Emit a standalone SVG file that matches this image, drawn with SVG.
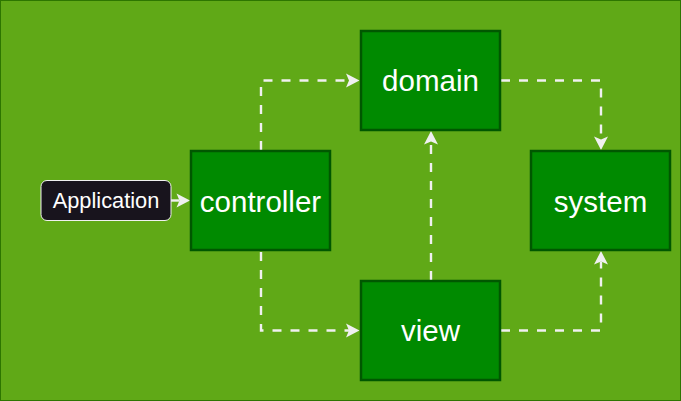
<svg xmlns="http://www.w3.org/2000/svg" width="681" height="401" viewBox="0 0 681 401">
  <defs>
    <style>
      .box { fill: #008a00; stroke: #005700; stroke-width: 2.5; }
      .label { font-family: "Liberation Sans", Arial, sans-serif; fill: #ffffff; text-anchor: middle; }
      .big { font-size: 29.5px; }
      .small { font-size: 21.8px; }
      .edge { fill: none; stroke: #f0f0f0; stroke-width: 2.4; }
      .dashed { stroke-dasharray: 9 9; }
    </style>
    <marker id="arrow" markerUnits="userSpaceOnUse" viewBox="-4 -8 16 16" markerWidth="16" markerHeight="16" refX="0" refY="0" orient="auto">
      <path d="M10.5,0 L-3,-7 L0,0 L-3,7 Z" fill="#f0f0f0"/>
    </marker>
  </defs>

  <!-- backdrop -->
  <rect x="0.5" y="0.5" width="680" height="400" fill="#60a917" stroke="#2d7600" stroke-width="1"/>

  <!-- connectors -->
  <g id="connectors">
    <path class="edge" d="M171,200.5 H179.5" marker-end="url(#arrow)"/>
    <path class="edge dashed" d="M261,150 V80.5 H349" marker-end="url(#arrow)"/>
    <path class="edge dashed" d="M261,252 V330.5 H349" marker-end="url(#arrow)"/>
    <path class="edge dashed" d="M431,280 V141.5" marker-end="url(#arrow)"/>
    <path class="edge dashed" d="M501,80.5 H601 V139.5" marker-end="url(#arrow)"/>
    <path class="edge dashed" d="M501,330.5 H601 V261.5" marker-end="url(#arrow)"/>
  </g>

  <g id="application">
    <rect x="41" y="180.5" width="130" height="40" rx="6" fill="#18141d" stroke="#f0f0f0" stroke-width="1"/>
    <text class="label small" x="106" y="207.5">Application</text>
  </g>

  <g id="controller">
    <rect class="box" x="191" y="151" width="139" height="99"/>
    <text class="label big" x="260.5" y="211.5">controller</text>
  </g>

  <g id="domain">
    <rect class="box" x="361" y="31" width="139" height="99"/>
    <text class="label big" x="430.5" y="91">domain</text>
  </g>

  <g id="view">
    <rect class="box" x="361" y="281" width="139" height="99"/>
    <text class="label big" x="430.5" y="341">view</text>
  </g>

  <g id="system">
    <rect class="box" x="531" y="151" width="139" height="99"/>
    <text class="label big" x="600.5" y="211.5">system</text>
  </g>
</svg>
